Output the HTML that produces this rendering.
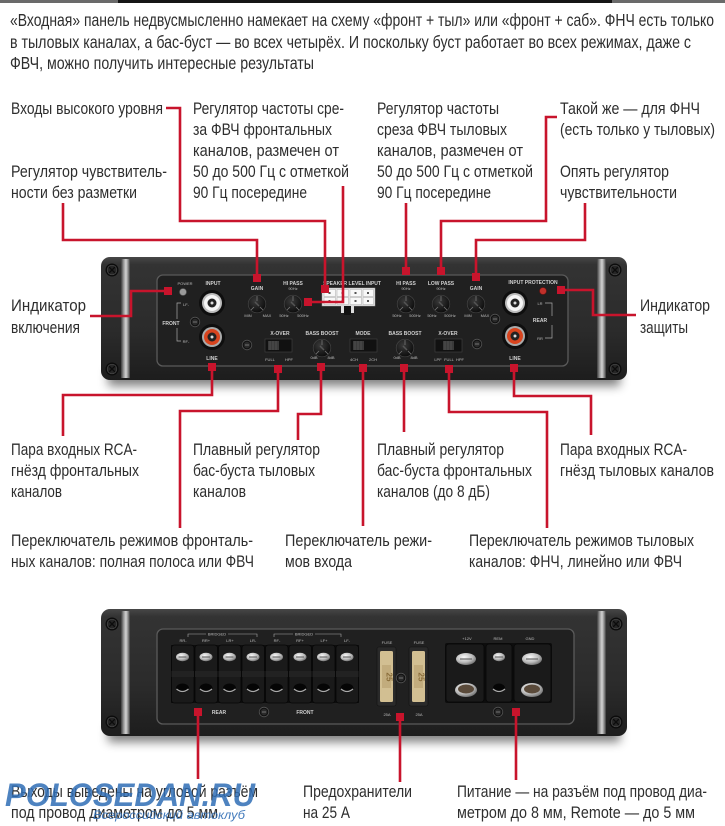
<!DOCTYPE html>
<html><head><meta charset="utf-8"><style>
html,body{margin:0;padding:0;background:#fff;}
svg{display:block;}
.t{font-family:"Liberation Sans","DejaVu Sans",sans-serif;font-size:16.5px;fill:#2e2e2e;}
.p{font-family:"Liberation Sans","DejaVu Sans",sans-serif;font-size:17.5px;fill:#2e2e2e;}
.s{font-family:"Liberation Sans","DejaVu Sans",sans-serif;font-size:5px;font-weight:bold;fill:#d0d0d0;text-anchor:middle;}
.s2{font-family:"Liberation Sans","DejaVu Sans",sans-serif;font-size:4px;fill:#bbb;text-anchor:middle;}
.r{stroke:#c8142c;stroke-width:2.6;fill:none;stroke-linejoin:miter;stroke-linecap:butt;}
.m{fill:#c8142c;}
</style></head><body>
<svg width="725" height="826" viewBox="0 0 725 826" xmlns="http://www.w3.org/2000/svg">
<defs>
<linearGradient id="cs" x1="0" y1="0" x2="0" y2="1">
<stop offset="0" stop-color="#474747"/><stop offset=".06" stop-color="#333"/><stop offset=".6" stop-color="#2b2b2b"/><stop offset="1" stop-color="#1d1d1d"/>
</linearGradient>
<linearGradient id="mt" x1="0" y1="0" x2="1" y2="0">
<stop offset="0" stop-color="#3a3a3a"/><stop offset=".3" stop-color="#999"/><stop offset=".55" stop-color="#d4d4d4"/><stop offset=".8" stop-color="#888"/><stop offset="1" stop-color="#3a3a3a"/>
</linearGradient>
<radialGradient id="sv" cx=".4" cy=".35" r=".7">
<stop offset="0" stop-color="#fafafa"/><stop offset=".6" stop-color="#bcbcbc"/><stop offset="1" stop-color="#6a6a6a"/>
</radialGradient>
<radialGradient id="kn" cx=".4" cy=".35" r=".7">
<stop offset="0" stop-color="#3a3a3a"/><stop offset="1" stop-color="#0a0a0a"/>
</radialGradient>
<filter id="bl" x="-10%" y="-100%" width="120%" height="300%"><feGaussianBlur stdDeviation="5"/></filter>
<g id="scr"><circle r="6.5" fill="#0b0b0b"/><circle r="4.8" fill="#262626" stroke="#4a4a4a" stroke-width=".7"/><path d="M-3 -3L3 3M3 -3L-3 3" stroke="#0c0c0c" stroke-width="1.3"/></g>
<g id="ss"><circle r="4.8" fill="#111" stroke="#555" stroke-width=".8"/><circle r="3.2" fill="#2a2a2a"/><path d="M-2 0H2" stroke="#888" stroke-width=".8"/></g>
<g id="kb"><circle r="8.8" fill="url(#kn)" stroke="#444" stroke-width=".7"/><path d="M0 -8V-3M-3 3L-6 6M3 3L6 6" stroke="#777" stroke-width=".8"/><path d="M-2 -2L2 2" stroke="#555" stroke-width="1.5"/></g>
<g id="tm"><rect x="-11" y="-29" width="22.5" height="58" rx="3" fill="#1a1a1a" stroke="#070707" stroke-width=".8"/><rect x="-11" y="-3" width="22.5" height="6" fill="#222"/><ellipse cy="-17" rx="6.5" ry="4.2" fill="url(#sv)"/><path d="M-4 -17H4" stroke="#555" stroke-width="1"/><ellipse cy="14" rx="6.5" ry="4.5" fill="#050505"/><path d="M-6 15Q0 20 6 15" stroke="#aaa" stroke-width="1.2" fill="none"/></g>
</defs>

<!-- top strip -->
<rect x="0" y="0" width="118" height="3" fill="#6a6a6a"/>
<rect x="118" y="0" width="494" height="3" fill="#151515"/>
<rect x="612" y="0" width="113" height="3" fill="#6a6a6a"/>

<!-- paragraph -->
<text class="p" x="10" y="26" textLength="704" lengthAdjust="spacingAndGlyphs">«Входная» панель недвусмысленно намекает на схему «фронт + тыл» или «фронт + саб». ФНЧ есть только</text>
<text class="p" x="10" y="48" textLength="681" lengthAdjust="spacingAndGlyphs">в тыловых каналах, а бас-буст — во всех четырёх. И поскольку буст работает во всех режимах, даже с</text>
<text class="p" x="10" y="69" textLength="304" lengthAdjust="spacingAndGlyphs">ФВЧ, можно получить интересные результаты</text>

<!-- upper labels -->
<text class="t" x="11" y="114" textLength="152" lengthAdjust="spacingAndGlyphs">Входы высокого уровня</text>
<text class="t" x="11" y="177" textLength="156" lengthAdjust="spacingAndGlyphs">Регулятор чувствитель-</text>
<text class="t" x="11" y="198" textLength="126" lengthAdjust="spacingAndGlyphs">ности без разметки</text>
<text class="t" x="193" y="114" textLength="151" lengthAdjust="spacingAndGlyphs">Регулятор частоты сре-</text>
<text class="t" x="193" y="135" textLength="139" lengthAdjust="spacingAndGlyphs">за ФВЧ фронтальных</text>
<text class="t" x="193" y="156" textLength="146" lengthAdjust="spacingAndGlyphs">каналов, размечен от</text>
<text class="t" x="193" y="177" textLength="156" lengthAdjust="spacingAndGlyphs">50 до 500 Гц с отметкой</text>
<text class="t" x="193" y="198" textLength="114" lengthAdjust="spacingAndGlyphs">90 Гц посередине</text>
<text class="t" x="377" y="114" textLength="122" lengthAdjust="spacingAndGlyphs">Регулятор частоты</text>
<text class="t" x="377" y="135" textLength="130" lengthAdjust="spacingAndGlyphs">среза ФВЧ тыловых</text>
<text class="t" x="377" y="156" textLength="146" lengthAdjust="spacingAndGlyphs">каналов, размечен от</text>
<text class="t" x="377" y="177" textLength="156" lengthAdjust="spacingAndGlyphs">50 до 500 Гц с отметкой</text>
<text class="t" x="377" y="198" textLength="114" lengthAdjust="spacingAndGlyphs">90 Гц посередине</text>
<text class="t" x="560" y="114" textLength="140" lengthAdjust="spacingAndGlyphs">Такой же — для ФНЧ</text>
<text class="t" x="560" y="135" textLength="155" lengthAdjust="spacingAndGlyphs">(есть только у тыловых)</text>
<text class="t" x="560" y="177" textLength="109" lengthAdjust="spacingAndGlyphs">Опять регулятор</text>
<text class="t" x="560" y="198" textLength="117" lengthAdjust="spacingAndGlyphs">чувствительности</text>
<text class="t" x="11" y="311" textLength="75" lengthAdjust="spacingAndGlyphs">Индикатор</text>
<text class="t" x="11" y="333" textLength="69" lengthAdjust="spacingAndGlyphs">включения</text>
<text class="t" x="640" y="311" textLength="70" lengthAdjust="spacingAndGlyphs">Индикатор</text>
<text class="t" x="640" y="333" textLength="48" lengthAdjust="spacingAndGlyphs">защиты</text>

<!-- lower labels -->
<text class="t" x="11" y="455" textLength="126" lengthAdjust="spacingAndGlyphs">Пара входных RCA-</text>
<text class="t" x="11" y="476" textLength="128" lengthAdjust="spacingAndGlyphs">гнёзд фронтальных</text>
<text class="t" x="11" y="497" textLength="51" lengthAdjust="spacingAndGlyphs">каналов</text>
<text class="t" x="193" y="455" textLength="127" lengthAdjust="spacingAndGlyphs">Плавный регулятор</text>
<text class="t" x="193" y="476" textLength="122" lengthAdjust="spacingAndGlyphs">бас-буста тыловых</text>
<text class="t" x="193" y="497" textLength="53" lengthAdjust="spacingAndGlyphs">каналов</text>
<text class="t" x="377" y="455" textLength="127" lengthAdjust="spacingAndGlyphs">Плавный регулятор</text>
<text class="t" x="377" y="476" textLength="155" lengthAdjust="spacingAndGlyphs">бас-буста фронтальных</text>
<text class="t" x="377" y="497" textLength="113" lengthAdjust="spacingAndGlyphs">каналов (до 8 дБ)</text>
<text class="t" x="560" y="455" textLength="127" lengthAdjust="spacingAndGlyphs">Пара входных RCA-</text>
<text class="t" x="560" y="476" textLength="154" lengthAdjust="spacingAndGlyphs">гнёзд тыловых каналов</text>
<text class="t" x="11" y="546" textLength="242" lengthAdjust="spacingAndGlyphs">Переключатель режимов фронталь-</text>
<text class="t" x="11" y="567" textLength="243" lengthAdjust="spacingAndGlyphs">ных каналов: полная полоса или ФВЧ</text>
<text class="t" x="285" y="546" textLength="147" lengthAdjust="spacingAndGlyphs">Переключатель режи-</text>
<text class="t" x="285" y="567" textLength="67" lengthAdjust="spacingAndGlyphs">мов входа</text>
<text class="t" x="469" y="546" textLength="225" lengthAdjust="spacingAndGlyphs">Переключатель режимов тыловых</text>
<text class="t" x="469" y="567" textLength="213" lengthAdjust="spacingAndGlyphs">каналов: ФНЧ, линейно или ФВЧ</text>

<!-- bottom labels -->
<text class="t" x="11" y="797" textLength="247" lengthAdjust="spacingAndGlyphs">Выходы выведены на угловой разъём</text>
<text class="t" x="11" y="818" textLength="207" lengthAdjust="spacingAndGlyphs">под провод диаметром до 5 мм</text>
<text class="t" x="303" y="797" textLength="109" lengthAdjust="spacingAndGlyphs">Предохранители</text>
<text class="t" x="303" y="818" textLength="47" lengthAdjust="spacingAndGlyphs">на 25 А</text>
<text class="t" x="457" y="797" textLength="250" lengthAdjust="spacingAndGlyphs">Питание — на разъём под провод диа-</text>
<text class="t" x="457" y="818" textLength="238" lengthAdjust="spacingAndGlyphs">метром до 8 мм, Remote — до 5 мм</text>

<!-- ============ PANEL 1 ============ -->
<rect x="108" y="370" width="512" height="16" fill="#000" opacity=".5" filter="url(#bl)"/>
<rect x="101" y="257" width="526" height="123" rx="9" fill="url(#cs)"/>
<rect x="121" y="259" width="9" height="119" fill="url(#mt)"/>
<rect x="597" y="259" width="9" height="119" fill="url(#mt)"/>
<use href="#scr" x="112" y="270"/><use href="#scr" x="112" y="369"/>
<use href="#scr" x="615" y="270"/><use href="#scr" x="615" y="369"/>
<rect x="157" y="275" width="411" height="91" rx="6" fill="#202020" stroke="#5a5a5a" stroke-width="1.3"/>

<!-- left input section -->
<text class="s2" x="185" y="285">POWER</text>
<circle cx="183" cy="292" r="3.5" fill="#9a9a9a" stroke="#555" stroke-width=".6"/>
<text class="s" x="213" y="285">INPUT</text>
<g transform="translate(212,303)"><circle r="13" fill="#0e0e0e"/><circle r="10" fill="#bdbdbd"/><circle r="8" fill="#f5f5f5"/><circle r="4.5" fill="#222"/><circle r="1.5" fill="#ddd"/></g>
<g transform="translate(212,337)"><circle r="13" fill="#0e0e0e"/><circle r="10" fill="#aaa"/><circle r="8" fill="#d8441e"/><circle r="4.5" fill="#222"/><circle r="1.5" fill="#ddd"/></g>
<text class="s" x="212" y="360">LINE</text>
<text class="s2" x="186" y="306">LF-</text>
<text class="s" x="171" y="325">FRONT</text>
<text class="s2" x="186" y="343">RF-</text>
<path d="M181 303H177V319M177 328V341H181" stroke="#aaa" stroke-width=".7" fill="none"/>
<use href="#ss" x="195" y="322"/>

<!-- GAIN / HI PASS front -->
<text class="s" x="257" y="290">GAIN</text>
<use href="#kb" x="257" y="304"/>
<text class="s2" x="248" y="317">MIN</text><text class="s2" x="267" y="317">MAX</text>
<text class="s" x="293" y="285">HI PASS</text><text class="s2" x="293" y="290">90Hz</text>
<use href="#kb" x="293" y="304"/>
<text class="s2" x="284" y="317">50Hz</text><text class="s2" x="303" y="317">500Hz</text>

<!-- speaker level input -->
<text class="s" x="352" y="285">SPEAKER LEVEL INPUT</text>
<rect x="322" y="288" width="53" height="18" fill="#ececec" stroke="#999" stroke-width=".5"/>
<g fill="#f8f8f8" stroke="#aaa" stroke-width=".5">
<rect x="324" y="289.5" width="11.5" height="7"/><rect x="337" y="289.5" width="11.5" height="7"/><rect x="350" y="289.5" width="11.5" height="7"/><rect x="363" y="289.5" width="10.5" height="7"/>
<rect x="324" y="297.5" width="11.5" height="7"/><rect x="337" y="297.5" width="11.5" height="7"/><rect x="350" y="297.5" width="11.5" height="7"/><rect x="363" y="297.5" width="10.5" height="7"/>
</g>
<g fill="#555"><rect x="328.5" y="292" width="2" height="2"/><rect x="341.5" y="292" width="2" height="2"/><rect x="354.5" y="292" width="2" height="2"/><rect x="367" y="292" width="2" height="2"/><rect x="328.5" y="300" width="2" height="2"/><rect x="341.5" y="300" width="2" height="2"/><rect x="354.5" y="300" width="2" height="2"/><rect x="367" y="300" width="2" height="2"/></g>
<rect x="341" y="306" width="13" height="7" fill="#ddd"/><rect x="344" y="306" width="7" height="9" fill="#111"/>

<!-- rear top knobs -->
<text class="s" x="406" y="285">HI PASS</text><text class="s2" x="406" y="290">90Hz</text>
<use href="#kb" x="406" y="304"/>
<text class="s2" x="397" y="317">50Hz</text><text class="s2" x="415" y="317">500Hz</text>
<text class="s" x="441" y="285">LOW PASS</text><text class="s2" x="441" y="290">90Hz</text>
<use href="#kb" x="441" y="304"/>
<text class="s2" x="432" y="317">50Hz</text><text class="s2" x="450" y="317">500Hz</text>
<text class="s" x="476" y="290">GAIN</text>
<use href="#kb" x="476" y="304"/>
<text class="s2" x="468" y="317">MIN</text><text class="s2" x="485" y="317">MAX</text>
<use href="#ss" x="495" y="319"/>

<!-- right input section -->
<text class="s" x="533" y="284">INPUT PROTECTION</text>
<circle cx="543" cy="291" r="3.5" fill="#c0302a" stroke="#611" stroke-width=".6"/>
<g transform="translate(515,303)"><circle r="13" fill="#0e0e0e"/><circle r="10" fill="#bdbdbd"/><circle r="8" fill="#f5f5f5"/><circle r="4.5" fill="#222"/><circle r="1.5" fill="#ddd"/></g>
<g transform="translate(515,336)"><circle r="13" fill="#0e0e0e"/><circle r="10" fill="#aaa"/><circle r="8" fill="#d8441e"/><circle r="4.5" fill="#222"/><circle r="1.5" fill="#ddd"/></g>
<text class="s" x="515" y="360">LINE</text>
<text class="s2" x="540" y="305">LR</text>
<text class="s" x="540" y="322">REAR</text>
<text class="s2" x="540" y="340">RR</text>
<path d="M545 303H552V316M552 325V338H545" stroke="#aaa" stroke-width=".7" fill="none"/>

<!-- bottom row -->
<use href="#ss" x="247" y="345"/>
<text class="s" x="280" y="335">X-OVER</text>
<rect x="265" y="339" width="27" height="13" fill="#111" stroke="#444" stroke-width=".6"/>
<rect x="268" y="341" width="11" height="9" fill="#3a3a3a"/><path d="M270 341V350M273 341V350M276 341V350" stroke="#555" stroke-width=".8"/>
<text class="s2" x="270" y="361">FULL</text><text class="s2" x="289" y="361">HPF</text>
<text class="s" x="322" y="335">BASS BOOST</text>
<use href="#kb" x="322" y="348"/>
<text class="s2" x="314" y="359">0dB</text><text class="s2" x="331" y="359">8dB</text>
<text class="s" x="363" y="335">MODE</text>
<rect x="350" y="339" width="27" height="13" fill="#111" stroke="#444" stroke-width=".6"/>
<rect x="353" y="341" width="11" height="9" fill="#3a3a3a"/><path d="M355 341V350M358 341V350M361 341V350" stroke="#555" stroke-width=".8"/>
<text class="s2" x="354" y="361">4CH</text><text class="s2" x="373" y="361">2CH</text>
<text class="s" x="405" y="335">BASS BOOST</text>
<use href="#kb" x="405" y="348"/>
<text class="s2" x="397" y="359">0dB</text><text class="s2" x="414" y="359">8dB</text>
<text class="s" x="448" y="335">X-OVER</text>
<rect x="435" y="339" width="27" height="13" fill="#111" stroke="#444" stroke-width=".6"/>
<rect x="443" y="341" width="11" height="9" fill="#3a3a3a"/><path d="M445 341V350M448 341V350M451 341V350" stroke="#555" stroke-width=".8"/>
<text class="s2" x="438" y="361">LPF</text><text class="s2" x="449" y="361">FULL</text><text class="s2" x="460" y="361">HPF</text>
<use href="#ss" x="477" y="344"/>

<!-- ============ PANEL 2 ============ -->
<rect x="108" y="726" width="512" height="16" fill="#000" opacity=".5" filter="url(#bl)"/>
<rect x="101" y="609" width="526" height="127" rx="9" fill="url(#cs)"/>
<rect x="121" y="611" width="9" height="123" fill="url(#mt)"/>
<rect x="597" y="611" width="9" height="123" fill="url(#mt)"/>
<use href="#scr" x="112" y="624"/><use href="#scr" x="112" y="722"/>
<use href="#scr" x="616" y="624"/><use href="#scr" x="616" y="722"/>
<rect x="157" y="629" width="417" height="95" rx="6" fill="#202020" stroke="#5a5a5a" stroke-width="1.3"/>

<!-- speaker terminals -->
<path d="M188 637V634H257V637M274 637V634H341V637" stroke="#aaa" stroke-width=".6" fill="none"/>
<rect x="206" y="631" width="22" height="5" fill="#202020"/><rect x="293" y="631" width="22" height="5" fill="#202020"/>
<text class="s2" x="217" y="635.5">BRIDGED</text><text class="s2" x="304" y="635.5">BRIDGED</text>
<text class="s2" x="183" y="642">RR-</text><text class="s2" x="206" y="642">RR+</text><text class="s2" x="230" y="642">LR+</text><text class="s2" x="253" y="642">LR-</text>
<text class="s2" x="277" y="642">RF-</text><text class="s2" x="300" y="642">RF+</text><text class="s2" x="324" y="642">LF+</text><text class="s2" x="347" y="642">LF-</text>
<rect x="171" y="645" width="188" height="58" fill="#0d0d0d"/>
<use href="#tm" x="182.5" y="674"/><use href="#tm" x="206" y="674"/><use href="#tm" x="229.5" y="674"/><use href="#tm" x="253" y="674"/>
<use href="#tm" x="276.5" y="674"/><use href="#tm" x="300" y="674"/><use href="#tm" x="323.5" y="674"/><use href="#tm" x="347" y="674"/>
<text class="s" x="219" y="714">REAR</text>
<use href="#ss" x="264" y="712"/>
<text class="s" x="305" y="714">FRONT</text>

<!-- fuses -->
<text class="s2" x="387" y="644">FUSE</text><text class="s2" x="419" y="644">FUSE</text>
<rect x="377" y="647" width="19" height="59" rx="2" fill="#2a2a2a" stroke="#111" stroke-width=".6"/>
<rect x="380" y="651" width="13" height="51" rx="1.5" fill="#d2bf92"/>
<rect x="382" y="665" width="9" height="23" fill="#b8a070" opacity=".6"/>
<text x="386.5" y="677" transform="rotate(90 386.5 677)" font-family="Liberation Sans, sans-serif" font-size="8" font-weight="bold" fill="#8a6d3a" text-anchor="middle">25</text>
<rect x="409" y="647" width="19" height="59" rx="2" fill="#2a2a2a" stroke="#111" stroke-width=".6"/>
<rect x="412" y="651" width="13" height="51" rx="1.5" fill="#d2bf92"/>
<rect x="414" y="665" width="9" height="23" fill="#b8a070" opacity=".6"/>
<text x="418.5" y="677" transform="rotate(90 418.5 677)" font-family="Liberation Sans, sans-serif" font-size="8" font-weight="bold" fill="#8a6d3a" text-anchor="middle">25</text>
<use href="#ss" x="401" y="678"/>
<text class="s2" x="387" y="716">25A</text><text class="s2" x="419" y="716">25A</text>

<!-- power block -->
<text class="s2" x="467" y="640">+12V</text><text class="s2" x="498" y="640">REM</text><text class="s2" x="530" y="640">GND</text>
<rect x="445" y="643" width="107" height="60" rx="2" fill="#0d0d0d"/>
<rect x="446" y="644" width="38" height="58" rx="3" fill="#1a1a1a" stroke="#070707" stroke-width=".8"/>
<rect x="486" y="644" width="26" height="58" rx="3" fill="#1a1a1a" stroke="#070707" stroke-width=".8"/>
<rect x="514" y="644" width="37" height="58" rx="3" fill="#1a1a1a" stroke="#070707" stroke-width=".8"/>
<ellipse cx="466" cy="659" rx="10" ry="6" fill="url(#sv)"/><path d="M460 659H472" stroke="#555" stroke-width="1"/>
<ellipse cx="499" cy="657" rx="6" ry="4.2" fill="url(#sv)"/><path d="M495 657H503" stroke="#555" stroke-width="1"/>
<ellipse cx="532" cy="659" rx="10" ry="6" fill="url(#sv)"/><path d="M526 659H538" stroke="#555" stroke-width="1"/>
<ellipse cx="466" cy="690" rx="11" ry="7" fill="url(#sv)"/><ellipse cx="466" cy="689" rx="8" ry="4.5" fill="#5a4a3a"/>
<ellipse cx="499" cy="688" rx="6" ry="4.5" fill="#050505"/><path d="M493 689Q499 694 505 689" stroke="#aaa" stroke-width="1.2" fill="none"/>
<ellipse cx="532" cy="690" rx="11" ry="7" fill="url(#sv)"/><ellipse cx="532" cy="689" rx="8" ry="4.5" fill="#5a4a3a"/>
<use href="#ss" x="498" y="712"/>

<!-- ============ CONNECTORS ============ -->
<path class="r" d="M166 108H180V221H325V289"/>
<path class="r" d="M343 186V302H308"/>
<path class="r" d="M63 203V240H257V278"/>
<path class="r" d="M406 203V271"/>
<path class="r" d="M557 117H546V221H441V271"/>
<path class="r" d="M585 203V240H476V277"/>
<path class="r" d="M90 316H131V291H168"/>
<path class="r" d="M561 290H593V315H636"/>
<path class="r" d="M212 367V395H63V436"/>
<path class="r" d="M278 369V411H180V528"/>
<path class="r" d="M321 367V414H298V440"/>
<path class="r" d="M363 368V526"/>
<path class="r" d="M404 368V432"/>
<path class="r" d="M449 369V412H547V528"/>
<path class="r" d="M514 368V396H591V435"/>
<path class="r" d="M198 712V779"/>
<path class="r" d="M400 717V782"/>
<path class="r" d="M516 712V780"/>
<g class="m">
<rect x="321" y="285" width="8" height="8"/>
<rect x="304" y="298" width="8" height="8"/>
<rect x="253" y="274" width="8" height="8"/>
<rect x="402" y="267" width="8" height="8"/>
<rect x="437" y="267" width="8" height="8"/>
<rect x="472" y="273" width="8" height="8"/>
<rect x="164" y="287" width="8" height="8"/>
<rect x="557" y="286" width="8" height="8"/>
<rect x="208" y="363" width="8" height="8"/>
<rect x="274" y="365" width="8" height="8"/>
<rect x="317" y="363" width="8" height="8"/>
<rect x="359" y="364" width="8" height="8"/>
<rect x="400" y="364" width="8" height="8"/>
<rect x="445" y="365" width="8" height="8"/>
<rect x="510" y="364" width="8" height="8"/>
<rect x="194" y="708" width="8" height="8"/>
<rect x="396" y="713" width="8" height="8"/>
<rect x="512" y="708" width="8" height="8"/>
</g>

<!-- watermark -->
<text x="5" y="806" textLength="250" lengthAdjust="spacingAndGlyphs" font-family="Liberation Sans, sans-serif" font-size="32" font-weight="bold" font-style="italic" fill="#2f6db5" fill-opacity=".85">POLOSEDAN.RU</text>
<text x="93" y="819" textLength="152" lengthAdjust="spacingAndGlyphs" font-family="Liberation Sans, sans-serif" font-size="12" font-style="italic" fill="#2f6db5" fill-opacity=".9">Всероссийский автоклуб</text>
</svg>
</body></html>
